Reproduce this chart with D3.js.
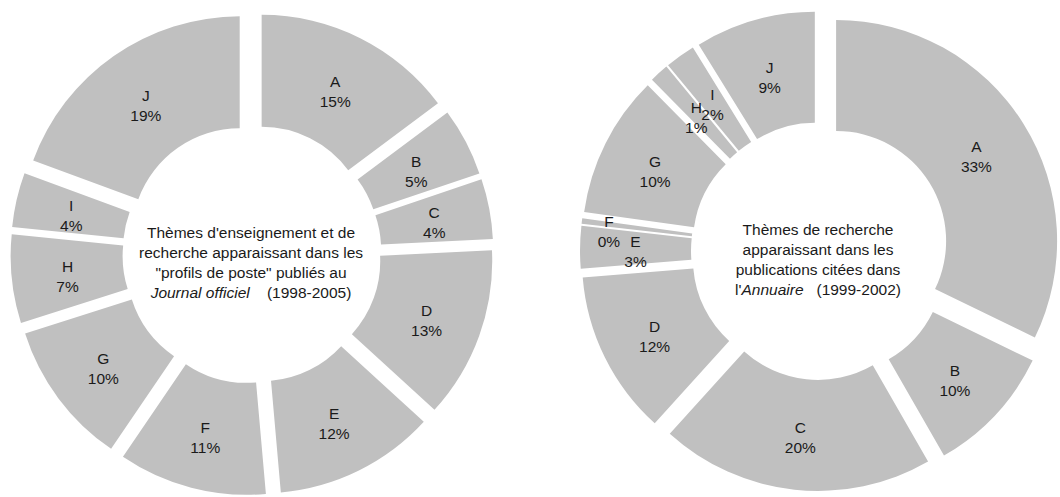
<!DOCTYPE html>
<head>
<meta charset="UTF-8">
<style>
    body { margin: 0; background: #fff; }
    svg text {
        font-family: "Liberation Sans Narrow", "Arial Narrow", "Liberation Sans", Arial, sans-serif;
        font-size: 15.5px;
        fill: #1a1a1a;
    }
    .slice { fill: #c0c0c0; }
</style>
</head>
<svg width="1060" height="497"></svg>
<script src="https://d3js.org/d3.v7.min.js"></script>
<script>
// categories shared by both donuts
var categories = ["A", "B", "C", "D", "E", "F", "G", "H", "I", "J"];

// left donut: profils de poste (Journal officiel)
var leftValues = [14.8, 5.0, 4.4, 12.6, 11.8, 10.9, 10.6, 6.5, 4.0, 19.4];
var leftLabels = ["15%", "5%", "4%", "13%", "12%", "11%", "10%", "7%", "4%", "19%"];
var leftTitle = [
    [["Thèmes d'enseignement et de", false]],
    [["recherche apparaissant dans les", false]],
    [["\"profils de poste\" publiés au", false]],
    [["Journal officiel", true], ["\u00a0\u00a0\u00a0\u00a0(1998-2005)", false]]
];

// right donut: publications citées (Annuaire)
var rightValues = [32.2, 9.5, 20.0, 12.0, 3.1, 0.4, 10.4, 1.4, 2.2, 8.8];
var rightLabels = ["33%", "10%", "20%", "12%", "3%", "0%", "10%", "1%", "2%", "9%"];
var rightTitle = [
    [["Thèmes de recherche", false]],
    [["apparaissant dans les", false]],
    [["publications citées dans", false]],
    [["l'", false], ["Annuaire", true], ["\u00a0\u00a0\u00a0(1999-2002)", false]]
];

var svg = d3.select("svg");
svg.append("rect").attr("width", 1060).attr("height", 497).attr("fill", "#fff");

function donut(cfg) {
    var data = categories.map(function(c, i) {
        return { cat: c, value: cfg.values[i], label: cfg.labels[i], idx: i };
    });
    var pie = d3.pie().sort(null).value(function(d) { return d.value; });
    var arc = d3.arc().innerRadius(cfg.r).outerRadius(cfg.R);
    var arcs = pie(data);

    var g = svg.append("g").attr("transform", "translate(" + cfg.cx + "," + cfg.cy + ")");

    // exploded slices: push each one out along its bisector
    function shift(d) {
        var a = (d.startAngle + d.endAngle) / 2;
        return [Math.sin(a) * cfg.explode, -Math.cos(a) * cfg.explode];
    }

    g.selectAll("path")
        .data(arcs)
        .enter().append("path")
        .attr("class", "slice")
        .attr("d", arc)
        .attr("transform", function(d) {
            var s = shift(d);
            return "translate(" + s[0] + "," + s[1] + ")";
        });

    var lab = g.selectAll("text.lab")
        .data(arcs)
        .enter().append("text")
        .attr("class", "lab")
        .attr("text-anchor", "middle")
        .attr("transform", function(d) {
            var c = arc.centroid(d);
            var s = shift(d);
            var n = cfg.nudge[d.data.cat] || [0, 0];
            return "translate(" + (c[0] + s[0] + n[0]) + "," + (c[1] + s[1] + 3 + n[1]) + ")";
        });
    lab.append("tspan").attr("x", 0).attr("y", -4).text(function(d) { return d.data.cat; });
    lab.append("tspan").attr("x", 0).attr("y", 16).text(function(d) { return d.data.label; });

    var t = g.append("text")
        .attr("text-anchor", "middle");
    cfg.title.forEach(function(line, i) {
        line.forEach(function(seg, j) {
            var ts = t.append("tspan").text(seg[0]);
            if (j === 0) ts.attr("x", cfg.titleDx).attr("y", -16 + i * 20);
            if (seg[1]) ts.attr("font-style", "italic");
        });
    });
}

donut({
    values: leftValues, labels: leftLabels, title: leftTitle,
    cx: 252, cy: 254, R: 220, r: 108, explode: 21.5,
    titleDx: -1, nudge: {}
});

donut({
    values: rightValues, labels: rightLabels, title: rightTitle,
    cx: 820, cy: 251, R: 221, r: 110, explode: 19,
    titleDx: -2, nudge: { F: [-28, 0] }
});
</script>
